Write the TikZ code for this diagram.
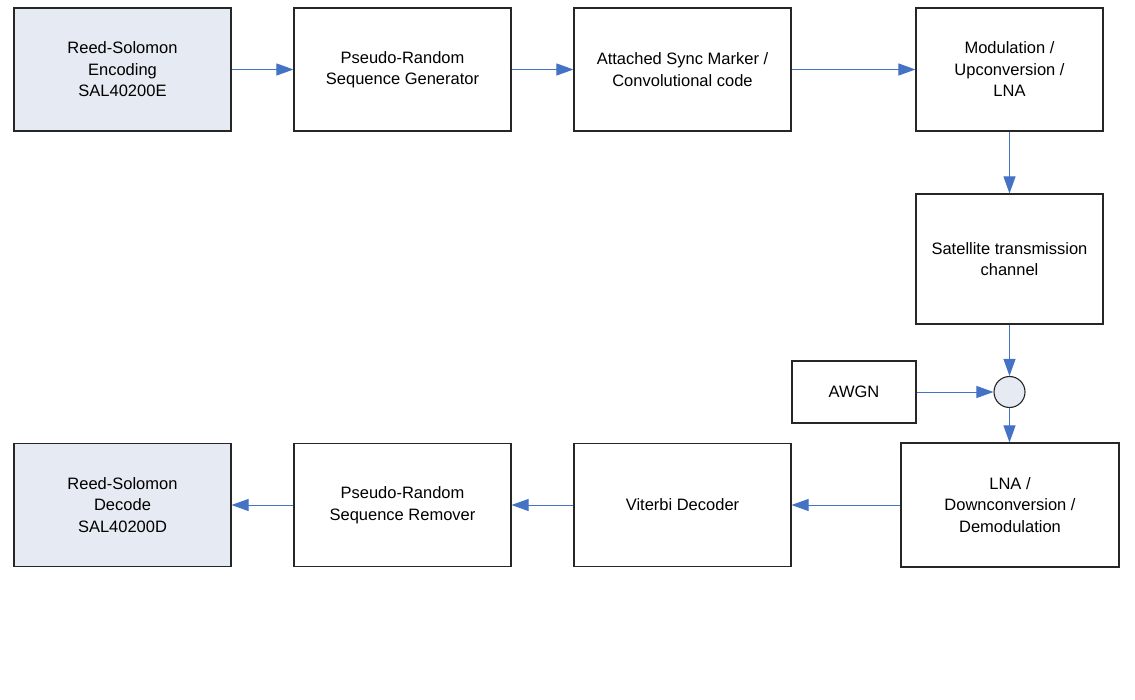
\documentclass[tikz,border=0pt]{standalone}
\usepackage{fontspec}
\setmainfont{Liberation Sans}
\usetikzlibrary{arrows.meta}
\definecolor{BoxFill}{HTML}{E6EAF3}
\definecolor{LinkBlue}{HTML}{4472C4}

\begin{document}
\begin{tikzpicture}
	[x=1pt,y=-1pt,
	block/.style={draw=black!85, line width=1.1pt, minimum width=217pt, minimum height=123pt, inner sep=0pt, align=center, font=\fontsize{16.5}{21.5}\selectfont},
	rsblock/.style={block, fill=BoxFill},
	link/.style={draw=LinkBlue, line width=0.9pt, -{Triangle[length=17pt,width=12pt]}}]

	\useasboundingbox (0,0) rectangle (1135,700);

	%Transmit chain
	\node[rsblock] (enc) at (122.5,69.5) {Reed-Solomon\\Encoding\\SAL40200E};
	\node[block] (prsg) at (402.5,69.5) {Pseudo-Random\\Sequence Generator};
	\node[block] (asm) at (682.5,69.5) {Attached Sync Marker /\\Convolutional code};
	\node[block, minimum width=187pt] (mod) at (1009.5,69.5) {Modulation /\\Upconversion /\\LNA};

	%Channel
	\node[block, minimum width=187pt, minimum height=130pt] (sat) at (1009.5,259) {Satellite transmission\\channel};
	\node[draw=black!85, fill=BoxFill, line width=1.1pt, circle, minimum size=31pt, inner sep=0pt] (sum) at (1009.5,392) {};
	\node[block, minimum width=124pt, minimum height=62pt] (awgn) at (854,392) {AWGN};

	%Receive chain
	\node[block, minimum width=218pt, minimum height=124pt] (lna) at (1010,505) {LNA /\\Downconversion /\\Demodulation};
	\node[block] (vit) at (682.5,505) {Viterbi Decoder};
	\node[block] (prsr) at (402.5,505) {Pseudo-Random\\Sequence Remover};
	\node[rsblock] (dec) at (122.5,505) {Reed-Solomon\\Decode\\SAL40200D};

	%Links
	\draw[link] (enc) -- (prsg);
	\draw[link] (prsg) -- (asm);
	\draw[link] (asm) -- (mod);
	\draw[link] (mod) -- (sat);
	\draw[link] (sat) -- (sum);
	\draw[link] (awgn) -- (sum);
	\draw[link] (sum) -- (sum |- lna.north);
	\draw[link] (lna) -- (vit);
	\draw[link] (vit) -- (prsr);
	\draw[link] (prsr) -- (dec);
\end{tikzpicture}
\end{document}
